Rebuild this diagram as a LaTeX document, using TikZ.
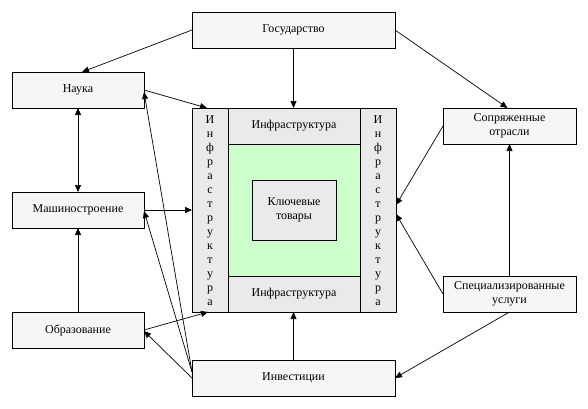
\documentclass[tikz,border=0pt]{standalone}
\usepackage{fontspec}
\setmainfont{Liberation Serif}
\usetikzlibrary{arrows.meta,calc}
\definecolor{boxfill}{HTML}{F6F6F6}
\definecolor{infrafill}{HTML}{EAEAEA}
\definecolor{greenfill}{HTML}{CCFFCC}
\begin{document}
\begin{tikzpicture}[x=1pt,y=-1pt,
  every node/.style={font=\fontsize{12}{14}\selectfont, inner sep=0pt, outer sep=0pt},
  outerbox/.style={draw, line width=0.8pt, fill=boxfill, align=center},
  infrabox/.style={draw, line width=0.8pt, fill=infrafill, align=center},
  conn/.style={line width=0.7pt, -{Triangle[length=7pt,width=6pt]}},
  conn2/.style={line width=0.7pt, {Triangle[length=7pt,width=6pt]}-{Triangle[length=7pt,width=6pt]}}]
\useasboundingbox (0,0) rectangle (588,408);
% outer nodes
\node[outerbox, minimum width=203, minimum height=36] (gos) at (293.5,30) {Государство};
\node[outerbox, minimum width=132, minimum height=36] (nauka) at (78,90) {Наука};
\node[outerbox, minimum width=132, minimum height=36] (mash) at (78,210) {Машиностроение};
\node[outerbox, minimum width=132, minimum height=36] (obr) at (78,330) {Образование};
\node[outerbox, minimum width=203, minimum height=36] (inv) at (293.5,378) {Инвестиции};
\node[outerbox, minimum width=133, minimum height=36] (sopr) at (509.5,126) {Сопряженные\\отрасли};
\node[outerbox, minimum width=133, minimum height=36] (spec) at (509.5,294) {Специализированные\\услуги};
% central block
\node[draw, line width=0.8pt, fill=infrafill, minimum width=204, minimum height=204] (big) at (294,210) {};
\node[draw, line width=0.8pt, fill=greenfill, minimum width=132, minimum height=132] (green) at (294,210) {};
\node[infrabox, minimum width=132, minimum height=36] (top) at (294,126) {Инфраструктура};
\node[infrabox, minimum width=132, minimum height=36] (bot) at (294,294) {Инфраструктура};
\node[infrabox, minimum width=36, minimum height=204] (lcol) at (210,210) {};
\node[infrabox, minimum width=36, minimum height=204] (rcol) at (378,210) {};
\node[align=center] (ltext) at (210,211) {И\\н\\ф\\р\\а\\с\\т\\р\\у\\к\\т\\у\\р\\а};
\node[align=center] (rtext) at (378,211) {И\\н\\ф\\р\\а\\с\\т\\р\\у\\к\\т\\у\\р\\а};
\node[infrabox, minimum width=84, minimum height=60] (key) at (294,210) {Ключевые\\товары};
% connectors
\draw[conn] (gos.west) -- ([xshift=4pt]nauka.north);
\draw[conn] (gos.south) -- (gos.south |- big.north);
\draw[conn] (gos.east) -- ([xshift=-2pt]sopr.north);
\draw[conn] (nauka.east) -- ([xshift=15pt]big.north west);
\draw[conn2] (nauka.south) -- (mash.north);
\draw[conn] (mash.east) -- (big.west);
\draw[conn] (obr.north) -- (mash.south);
\draw[conn] (obr.east) -- ([xshift=16pt]big.south west);
\draw[conn] (inv.west) -- ([yshift=-1pt]obr.east);
\draw[conn] ([yshift=6pt]inv.west) -- ([yshift=-1pt]mash.east);
\draw[conn] ([yshift=6pt]inv.west) -- ([yshift=-2pt]nauka.east);
\draw[conn] (inv.north) -- (inv.north |- big.south);
\draw[conn] (spec.south) -- (inv.east);
\draw[conn] (spec.north) -- (sopr.south);
\draw[conn] (sopr.west) -- ([yshift=5pt]big.east);
\draw[conn] (spec.west) -- ([yshift=-4pt]big.east);
\end{tikzpicture}
\end{document}
